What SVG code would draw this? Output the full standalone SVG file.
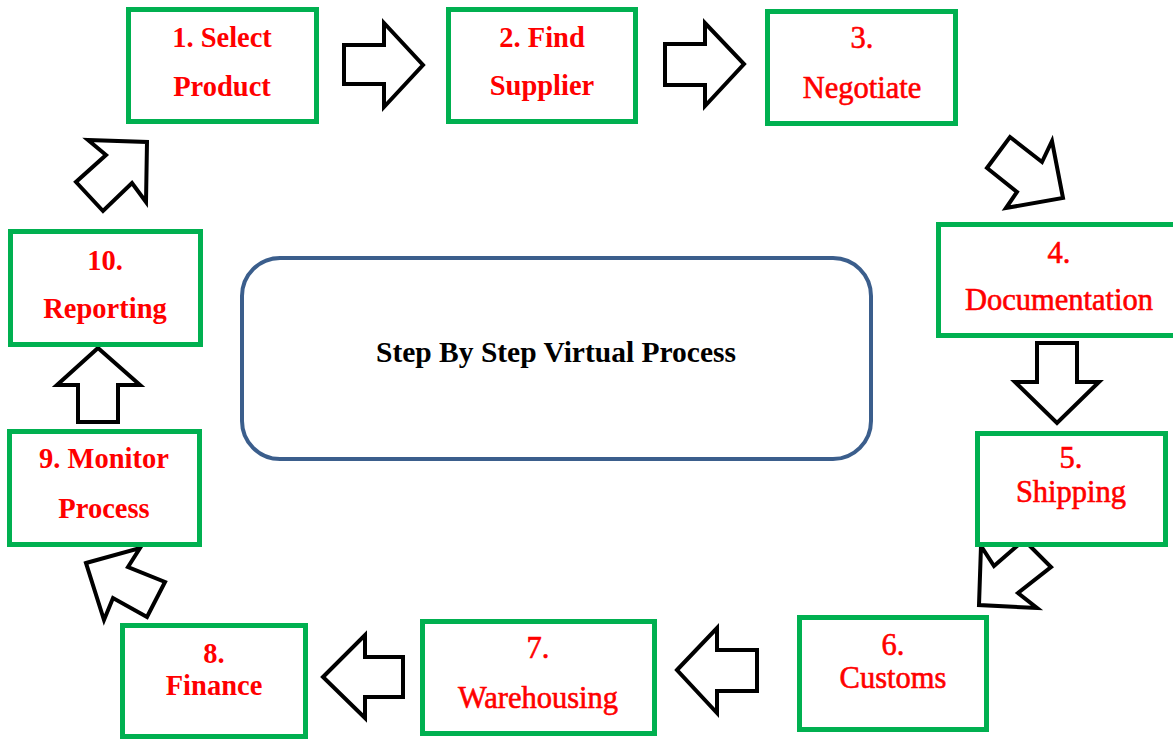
<svg xmlns="http://www.w3.org/2000/svg" width="1173" height="741" viewBox="0 0 1173 741">
<style>
.box{fill:#fff;stroke:#00B050;stroke-width:5;}
.arr{fill:#fff;stroke:#000;stroke-width:4;stroke-linejoin:miter;}
.t{font-family:"Liberation Serif","Times New Roman",serif;fill:#FF0000;text-anchor:middle;}
.b{font-weight:bold;font-size:28.5px;}
.r{font-weight:normal;font-size:30.5px;stroke:#FF0000;stroke-width:0.6px;}
.c{font-family:"Liberation Serif","Times New Roman",serif;font-weight:bold;font-size:29.5px;fill:#000;text-anchor:middle;}
</style>
<rect width="1173" height="741" fill="#fff"/>
<g id="connectors">
<polygon class="arr" points="344,45 384,45 384,23 423,65 384,107 384,84 344,84"/>
<polygon class="arr" points="665,44 705,44 705,23 744,64 705,106 705,85 665,85"/>
<polygon class="arr" points="1010,137 1042,162 1052,141 1063,198 1006,208 1017,192 987,168"/>
<polygon class="arr" points="1037,343 1077,343 1077,382 1099,382 1057,423 1015,382 1037,382"/>
<polygon class="arr" points="979,605 981,546 994,566 1024,540 1051,567 1018,593 1037,608"/>
<polygon class="arr" points="677,670 717,628 717,650 757,650 757,691 717,691 717,713"/>
<polygon class="arr" points="323,677 365,635 365,657 403,657 403,697 365,697 365,718"/>
<polygon class="arr" points="86,563 140,548 128,567 165,582 147,617 113,598 104,620"/>
<polygon class="arr" points="98,348 140,385 118,385 118,422 78,422 78,385 57,385"/>
<polygon class="arr" points="88,140 147,142 146,202 132,183 103,211 76,182 106,155"/>
</g>
<g id="center">
<rect x="242" y="258" width="629" height="201" rx="38" fill="#fff" stroke="#3B5E8C" stroke-width="4"/>
<text class="c" x="556" y="362">Step By Step Virtual Process</text>
</g>
<g id="n1">
<rect class="box" x="128.5" y="9.5" width="188" height="112"/>
<text class="t b" x="222" y="47">1. Select</text>
<text class="t b" x="222" y="96">Product</text>
</g>
<g id="n2">
<rect class="box" x="448.5" y="9.5" width="187" height="112"/>
<text class="t b" x="542" y="47">2. Find</text>
<text class="t b" x="542" y="95">Supplier</text>
</g>
<g id="n3">
<rect class="box" x="767.5" y="11.5" width="188" height="112"/>
<text class="t r" x="862" y="48">3.</text>
<text class="t r" x="862" y="98">Negotiate</text>
</g>
<g id="n4">
<rect class="box" x="938.5" y="224.5" width="250" height="111"/>
<text class="t r" x="1059" y="263">4.</text>
<text class="t r" x="1059" y="310">Documentation</text>
</g>
<g id="n5">
<rect class="box" x="977.5" y="433.5" width="188" height="111"/>
<text class="t r" x="1071" y="468">5.</text>
<text class="t r" x="1071" y="502">Shipping</text>
</g>
<g id="n6">
<rect class="box" x="799.5" y="617.5" width="187" height="112"/>
<text class="t r" x="893" y="655">6.</text>
<text class="t r" x="893" y="688">Customs</text>
</g>
<g id="n7">
<rect class="box" x="422.5" y="621.5" width="232" height="112"/>
<text class="t r" x="538" y="658">7.</text>
<text class="t r" x="538" y="708">Warehousing</text>
</g>
<g id="n8">
<rect class="box" x="122.5" y="625.5" width="183" height="111"/>
<text class="t b" x="214" y="663">8.</text>
<text class="t b" x="214" y="695">Finance</text>
</g>
<g id="n9">
<rect class="box" x="9.5" y="431.5" width="190" height="113"/>
<text class="t b" x="104" y="468">9. Monitor</text>
<text class="t b" x="104" y="518">Process</text>
</g>
<g id="n10">
<rect class="box" x="10.5" y="231.5" width="190" height="113"/>
<text class="t b" x="105" y="270">10.</text>
<text class="t b" x="105" y="318">Reporting</text>
</g>
</svg>
